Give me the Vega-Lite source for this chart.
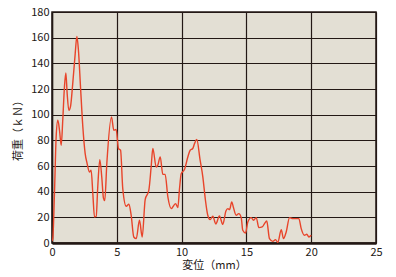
{
  "$schema": "https://vega.github.io/schema/vega-lite/v6.json",
  "autosize": {"type": "none"},
  "width": 324,
  "height": 231,
  "padding": {"left": 52, "top": 12, "right": 20, "bottom": 34},
  "background": "#ffffff",
  "config": {
    "view": {"fill": "#e3dfd4", "stroke": "#231815", "strokeWidth": 1.5},
    "font": "Noto Sans CJK JP"
  },
  "data": {"values": [
    {"d": 0.0, "f": 1.5},
    {"d": 0.06, "f": 3.4},
    {"d": 0.19, "f": 38.5},
    {"d": 0.32, "f": 82.6},
    {"d": 0.45, "f": 95.6},
    {"d": 0.58, "f": 87.8},
    {"d": 0.71, "f": 76.2},
    {"d": 0.83, "f": 95.6},
    {"d": 0.96, "f": 121.6},
    {"d": 1.07, "f": 132.5},
    {"d": 1.17, "f": 116.4},
    {"d": 1.3, "f": 103.4},
    {"d": 1.43, "f": 106.5},
    {"d": 1.6, "f": 124.2},
    {"d": 1.79, "f": 147.6},
    {"d": 1.92, "f": 161.0},
    {"d": 2.04, "f": 150.2},
    {"d": 2.2, "f": 121.6},
    {"d": 2.38, "f": 90.4},
    {"d": 2.56, "f": 69.7},
    {"d": 2.71, "f": 61.9},
    {"d": 2.89, "f": 55.3},
    {"d": 3.02, "f": 56.7},
    {"d": 3.15, "f": 38.5},
    {"d": 3.28, "f": 20.3},
    {"d": 3.41, "f": 20.8},
    {"d": 3.53, "f": 43.6},
    {"d": 3.69, "f": 65.0},
    {"d": 3.84, "f": 51.4},
    {"d": 3.97, "f": 35.0},
    {"d": 4.07, "f": 33.0},
    {"d": 4.23, "f": 61.9},
    {"d": 4.59, "f": 98.2},
    {"d": 4.77, "f": 87.8},
    {"d": 4.95, "f": 88.4},
    {"d": 5.13, "f": 73.6},
    {"d": 5.29, "f": 72.3},
    {"d": 5.46, "f": 42.4},
    {"d": 5.73, "f": 28.6},
    {"d": 5.93, "f": 30.2},
    {"d": 6.11, "f": 21.6},
    {"d": 6.31, "f": 4.7},
    {"d": 6.5, "f": 3.4},
    {"d": 6.75, "f": 17.7},
    {"d": 6.96, "f": 4.7},
    {"d": 7.19, "f": 33.8},
    {"d": 7.47, "f": 41.0},
    {"d": 7.65, "f": 59.2},
    {"d": 7.78, "f": 73.6},
    {"d": 8.04, "f": 59.2},
    {"d": 8.16, "f": 60.6},
    {"d": 8.35, "f": 67.0},
    {"d": 8.55, "f": 53.5},
    {"d": 8.73, "f": 53.5},
    {"d": 8.94, "f": 35.9},
    {"d": 9.2, "f": 26.8},
    {"d": 9.53, "f": 30.7},
    {"d": 9.71, "f": 27.6},
    {"d": 9.84, "f": 42.4},
    {"d": 9.97, "f": 54.0},
    {"d": 10.22, "f": 57.2},
    {"d": 10.48, "f": 67.0},
    {"d": 10.66, "f": 72.3},
    {"d": 10.86, "f": 73.6},
    {"d": 11.0, "f": 77.5},
    {"d": 11.17, "f": 80.6},
    {"d": 11.43, "f": 64.5},
    {"d": 11.64, "f": 51.4},
    {"d": 11.84, "f": 33.3},
    {"d": 12.02, "f": 21.6},
    {"d": 12.2, "f": 18.2},
    {"d": 12.41, "f": 20.8},
    {"d": 12.64, "f": 14.8},
    {"d": 12.92, "f": 21.0},
    {"d": 13.18, "f": 14.5},
    {"d": 13.42, "f": 25.0},
    {"d": 13.57, "f": 26.8},
    {"d": 13.7, "f": 26.0},
    {"d": 13.87, "f": 32.0},
    {"d": 14.0, "f": 27.6},
    {"d": 14.21, "f": 21.6},
    {"d": 14.41, "f": 22.9},
    {"d": 14.6, "f": 19.8},
    {"d": 14.72, "f": 9.9},
    {"d": 14.93, "f": 7.8},
    {"d": 15.11, "f": 16.4},
    {"d": 15.37, "f": 19.8},
    {"d": 15.55, "f": 17.7},
    {"d": 15.76, "f": 19.8},
    {"d": 15.96, "f": 12.0},
    {"d": 16.22, "f": 12.5},
    {"d": 16.4, "f": 15.1},
    {"d": 16.57, "f": 17.1},
    {"d": 16.78, "f": 3.4},
    {"d": 17.04, "f": 1.3},
    {"d": 17.25, "f": 2.6},
    {"d": 17.42, "f": 0.5},
    {"d": 17.69, "f": 10.4},
    {"d": 17.86, "f": 3.4},
    {"d": 18.07, "f": 8.6},
    {"d": 18.33, "f": 19.8},
    {"d": 18.58, "f": 19.0},
    {"d": 18.84, "f": 19.0},
    {"d": 19.05, "f": 19.0},
    {"d": 19.23, "f": 11.2},
    {"d": 19.48, "f": 6.0},
    {"d": 19.66, "f": 6.8},
    {"d": 19.82, "f": 4.7},
    {"d": 20.0, "f": 6.0}
  ]},
  "mark": {"type": "line", "color": "#e8442a", "strokeWidth": 1.4, "clip": true, "interpolate": "monotone"},
  "encoding": {
    "x": {
      "field": "d", "type": "quantitative",
      "scale": {"domain": [0, 25], "nice": false},
      "axis": {
        "values": [0, 5, 10, 15, 20, 25],
        "title": "変位（mm）",
        "titleFont": "Noto Sans CJK JP", "titleFontSize": 11, "titleFontWeight": "normal", "titleColor": "#231815",
        "titlePadding": 2,
        "labelFont": "Noto Sans CJK JP", "labelFontSize": 11, "labelColor": "#231815", "labelPadding": 3,
        "labelFlush": false,
        "ticks": false,
        "domain": true, "domainColor": "#231815", "domainWidth": 2.5,
        "grid": true, "gridColor": "#231815", "gridWidth": 1.2, "gridOpacity": 1
      }
    },
    "y": {
      "field": "f", "type": "quantitative",
      "scale": {"domain": [0, 180], "nice": false},
      "axis": {
        "values": [0, 20, 40, 60, 80, 100, 120, 140, 160, 180],
        "title": "荷重（ｋＮ）",
        "titleFont": "Noto Sans CJK JP", "titleFontSize": 11, "titleFontWeight": "normal", "titleColor": "#231815",
        "titlePadding": 7,
        "labelFont": "Noto Sans CJK JP", "labelFontSize": 11, "labelColor": "#231815", "labelPadding": 3,
        "labelFlush": false,
        "ticks": false,
        "domain": true, "domainColor": "#231815", "domainWidth": 1.5,
        "grid": true, "gridColor": "#231815", "gridWidth": 1.2, "gridOpacity": 1
      }
    }
  }
}
